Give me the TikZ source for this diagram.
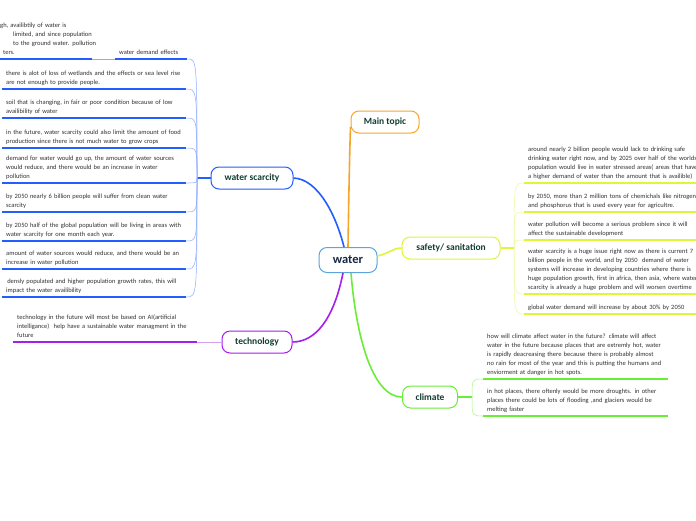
\documentclass[tikz,border=0pt]{standalone}
\usepackage{fontspec}
\setmainfont{Carlito}
\usetikzlibrary{positioning,calc}
\definecolor{scarblue}{RGB}{35,95,255}
\definecolor{scarlight}{RGB}{140,170,255}
\definecolor{topicorange}{RGB}{247,165,40}
\definecolor{safelime}{RGB}{222,245,60}
\definecolor{safelight}{RGB}{236,250,150}
\definecolor{techpurple}{RGB}{165,30,235}
\definecolor{techlight}{RGB}{215,160,245}
\definecolor{climgreen}{RGB}{105,238,55}
\definecolor{climlight}{RGB}{170,245,140}
\definecolor{centreblue}{RGB}{90,165,220}
\definecolor{nodetext}{RGB}{18,60,50}
\definecolor{centretext}{RGB}{20,40,70}
\definecolor{leaftext}{RGB}{50,50,50}
\tikzset{
  % topic boxes
  topic/.style={draw, rounded corners=8pt, line width=1pt, minimum height=22pt,
                fill=white, inner sep=2pt, text=nodetext,
                font=\fontsize{9.5}{11}\selectfont\bfseries},
  central/.style={topic, draw=centreblue, minimum height=25pt, minimum width=58pt,
                  text=centretext, font=\fontsize{12.5}{14}\selectfont\bfseries},
  % leaf texts sit on their underline
  leaf/.style={anchor=south west, align=left, inner xsep=4pt, inner ysep=2pt,
               text width=176pt, text=leaftext, font=\fontsize{6.5}{8.8}\selectfont,
               execute at end node=\strut},
  % lines
  branch/.style={line width=1.6pt},
  uline/.style={line width=1.3pt},
  twig/.style={line width=0.5pt}
}
\begin{document}
\begin{tikzpicture}[x=1pt, y=-1pt]
\useasboundingbox (0,0) rectangle (696,520);
\fill[white] (0,0) rectangle (696,520);

% ===== main topics =====
\node[central] (water) at (348,260) {water};
\node[topic, draw=topicorange, minimum width=68pt] (maint) at (385,122) {Main topic};
\node[topic, draw=scarblue, minimum width=82pt] (scar) at (252,178) {water scarcity};
\node[topic, draw=safelime, minimum width=98pt] (safe) at (451,248) {safety/ sanitation};
\node[topic, draw=techpurple, minimum width=70pt] (tech) at (257,342) {technology};
\node[topic, draw=climgreen, minimum width=55pt] (clim) at (430,397) {climate};

% ===== branches from the centre =====
\draw[branch, topicorange] (water.north) .. controls (349,180) and (350,140) .. ($(maint.west)+(0,5)$);
\draw[branch, scarblue] ($(water.north)+(-4,0)$) .. controls (336,215) and (318,179) .. (scar.east);
\draw[branch, safelime] ($(water.east)+(0,-4)$) .. controls (390,253) and (393,248) .. (safe.west);
\draw[branch, techpurple] ($(water.south)+(-5,0)$) .. controls (334,318) and (316,342) .. (tech.east);
\draw[branch, climgreen] ($(water.south)+(3,0)$) .. controls (356,335) and (372,397) .. (clim.west);

% ===== water scarcity leaves =====
\node[leaf, text width=64pt] (wde) at (115,59) {water demand effects};
\node[leaf, text width=88pt] (wdc) at (-4,59)
  {\mbox{gh, availibtily of water is}\\\mbox{\hspace*{13pt}limited, and since population}\\\mbox{\hspace*{13pt}to the ground water. pollution}\\\mbox{\hspace*{3pt}ters.}};
\node[leaf] (sc1) at (2,89) {there is alot of loss of wetlands and the effects or sea level rise\\are not enough to provide people.};
\node[leaf] (sc2) at (2,118) {soil that is changing, in fair or poor condition because of low\\availibility of water};
\node[leaf] (sc3) at (2,148) {in the future, water scarcity could also limit the amount of food\\production since there is not much water to grow crops};
\node[leaf] (sc4) at (2,183) {demand for water would go up, the amount of water sources\\would reduce, and there would be an increase in water\\pollution};
\node[leaf] (sc5) at (2,212) {by 2050 nearly 6 billion people will suffer from clean water\\scarcity};
\node[leaf] (sc6) at (2,241) {by 2050 half of the global population will be living in areas with\\water scarcity for one month each year.};
\node[leaf] (sc7) at (2,269) {amount of water sources would reduce, and there would be an\\increase in water pollution};
\node[leaf] (sc8) at (2,297) {\,densly populated and higher population growth rates, this will\\impact the water availibility};

\coordinate (scarhub) at (197,178);
\draw[uline, scarblue] (scar.west) -- (scarhub);
\foreach \n in {wde,wdc,sc1,sc2,sc3,sc4,sc5,sc6,sc7,sc8}
  \draw[uline, scarblue] (\n.south west) -- (\n.south east);
\foreach \n in {wde,sc1,sc2,sc3,sc4,sc5,sc6,sc7,sc8}
  \draw[twig, scarlight] (scarhub) .. controls (scarhub |- \n.south east) .. (\n.south east);
\draw[twig, scarlight] (wdc.south east) -- (wde.south west);

% ===== technology leaf =====
\node[leaf] (tl1) at (13,342) {technology in the future will most be based on AI(artificial\\intelligance)\ \ help have a sustainable water managment in the\\future};
\draw[uline, techpurple] (tl1.south west) -- (tl1.south east);
\draw[twig, techlight] (tl1.south east) -- (tech.west);

% ===== safety / sanitation leaves =====
\node[leaf, text width=200pt] (sf1) at (524,183) {around nearly 2 billion people would lack to drinking safe\\drinking water right now, and by 2025 over half of the worlds\\population would live in water stressed areas( areas that have\\a higher demand of water than the amount that is availible)};
\node[leaf, text width=200pt] (sf2) at (524,212) {by 2050, more than 2 million tons of chemichals like nitrogen\\and phosphorus that is used every year for agricultre.};
\node[leaf, text width=200pt] (sf3) at (524,240) {water pollution will become a serious problem since it will\\affect the sustainable development};
\node[leaf, text width=200pt] (sf4) at (524,294) {water scarcity is a huge issue right now as there is current 7\\billion people in the world, and by 2050\ \ demand of water\\systems will increase in developing countries where there is\\huge population growth, first in africa, then asia, where water\\scarcity is already a huge problem and will worsen overtime};
\node[leaf, text width=200pt] (sf5) at (524,314) {global water demand will increase by about 30\% by 2050};

\coordinate (safehub) at (514,248);
\draw[uline, safelime] (safe.east) -- (safehub);
\foreach \n in {sf1,sf2,sf3,sf4,sf5} {
  \draw[uline, safelime] (\n.south west) -- (\n.south east);
  \draw[twig, safelight] (safehub) .. controls (safehub |- \n.south west) .. (\n.south west);
}

% ===== climate leaves =====
\node[leaf, text width=177pt] (cl1) at (483,379) {how will climate affect water in the future? climate will affect\\water in the future because places that are extremly hot, water\\is rapidly deacreasing there because there is probably almost\\no rain for most of the year and this is putting the humans and\\enviorment at danger in hot spots.};
\node[leaf, text width=177pt] (cl2) at (483,416) {in hot places, there oftenly would be more droughts. in other\\places there could be lots of flooding ,and glaciers would be\\melting faster};

\coordinate (climhub) at (472,397);
\draw[uline, climgreen] (clim.east) -- (climhub);
\foreach \n in {cl1,cl2} {
  \draw[uline, climgreen] (\n.south west) -- (\n.south east);
  \draw[twig, climlight] (climhub) .. controls (climhub |- \n.south west) .. (\n.south west);
}

\end{tikzpicture}
\end{document}
